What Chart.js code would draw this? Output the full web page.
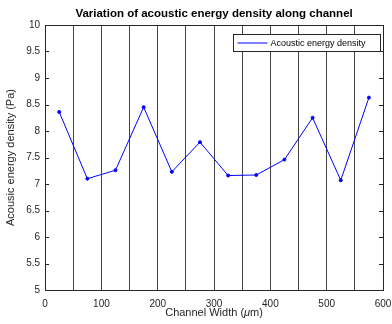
<!DOCTYPE html>
<html>
<head>
<meta charset="utf-8">
<script src="https://cdn.jsdelivr.net/npm/chart.js@4"></script>
<style>
  html, body { margin: 0; padding: 0; background: #fff; }
</style>
</head>
<body>
<canvas id="chEnergy" width="392" height="324"></canvas>
<script>
// data
var channelX = [25, 75, 125, 175, 225, 275, 325, 375, 425, 475, 525, 575];
var energyDensity = [8.36, 7.10, 7.26, 8.45, 7.23, 7.79, 7.16, 7.17, 7.46, 8.25, 7.07, 8.63];
var xTickLabels = [0, 100, 200, 300, 400, 500, 600];
var chartTitle = 'Variation of acoustic energy density along channel';

var axisColor = '#262626';
var fontFam = '"Liberation Sans", Arial, sans-serif';

// title over the plot, box, inward ticks and legend inside the plot (matlab look)
var matlabBox = {
  id: 'matlabBox',
  afterDraw: function(chart) {
    var ctx = chart.ctx, a = chart.chartArea;
    var ys = chart.scales.y;
    ctx.save();
    ctx.strokeStyle = axisColor;
    ctx.lineWidth = 1;
    ctx.strokeRect(Math.round(a.left) + 0.5, Math.round(a.top) + 0.5,
      Math.round(a.right - a.left), Math.round(a.bottom - a.top));
    ctx.beginPath();
    ys.ticks.forEach(function(t) {
      var py = Math.round(ys.getPixelForValue(t.value)) + 0.5;
      ctx.moveTo(a.left, py); ctx.lineTo(a.left + 4, py);
      ctx.moveTo(a.right, py); ctx.lineTo(a.right - 4, py);
    });
    ctx.stroke();

    // title
    ctx.fillStyle = '#000';
    ctx.font = 'bold 11.5px ' + fontFam;
    ctx.textAlign = 'center';
    ctx.textBaseline = 'middle';
    ctx.fillText(chartTitle, (a.left + a.right) / 2, a.top - 11);

    // x axis title with an italic mu
    var parts = [['Channel Width (', ''], ['\u03bc', 'italic '], ['m)', '']];
    var total = 0;
    parts.forEach(function(p) { ctx.font = p[1] + '11px ' + fontFam; total += ctx.measureText(p[0]).width; });
    var tx = (a.left + a.right) / 2 - total / 2;
    ctx.fillStyle = axisColor;
    ctx.textAlign = 'left';
    parts.forEach(function(p) {
      ctx.font = p[1] + '11px ' + fontFam;
      ctx.fillText(p[0], tx, a.bottom + 23);
      tx += ctx.measureText(p[0]).width;
    });

    // legend
    var ds = chart.data.datasets[0];
    var w = 147, h = 17;
    var lx = Math.round(a.right - 3 - w) + 0.5, ly = Math.round(a.top + 9) + 0.5;
    ctx.fillStyle = '#fff';
    ctx.fillRect(lx, ly, w, h);
    ctx.strokeStyle = axisColor;
    ctx.strokeRect(lx, ly, w, h);
    ctx.strokeStyle = ds.borderColor;
    ctx.beginPath();
    ctx.moveTo(lx + 4, ly + h / 2); ctx.lineTo(lx + 34, ly + h / 2);
    ctx.stroke();
    ctx.fillStyle = '#000';
    ctx.font = '9px ' + fontFam;
    ctx.fillText(ds.label, lx + 37, ly + h / 2 + 0.5);
    ctx.restore();
  }
};

new Chart(document.getElementById('chEnergy'), {
  type: 'line',
  data: {
    datasets: [{
      label: 'Acoustic energy density',
      data: channelX.map(function(x, i) { return {x: x, y: energyDensity[i]}; }),
      borderColor: '#0000ff',
      backgroundColor: '#0000ff',
      borderWidth: 1,
      pointRadius: 1.5,
      pointHoverRadius: 1.5,
      tension: 0
    }]
  },
  options: {
    responsive: false,
    animation: false,
    layout: {padding: {left: 4, right: 0, top: 25, bottom: 6}},
    plugins: {
      legend: {display: false},
      tooltip: {enabled: false},
      title: {display: false}
    },
    scales: {
      x: {
        type: 'linear',
        min: 0, max: 600,
        border: {color: axisColor},
        afterFit: function(s) { s.height = 28; s.paddingRight = 9; },
        grid: {
          drawTicks: false,
          color: function(c) {
            var v = c.tick ? c.tick.value : 0;
            return (v === 0 || v === 600) ? 'rgba(0,0,0,0)' : '#444';
          },
          lineWidth: 1
        },
        ticks: {
          stepSize: 50,
          autoSkip: false,
          maxRotation: 0,
          padding: 8,
          color: axisColor,
          font: {family: fontFam, size: 10},
          callback: function(v) { return xTickLabels.indexOf(v) >= 0 ? String(v) : ''; }
        },
        title: {display: false}
      },
      y: {
        min: 5, max: 10,
        border: {color: axisColor},
        grid: {display: false, drawTicks: false},
        ticks: {
          stepSize: 0.5,
          padding: 5,
          color: axisColor,
          font: {family: fontFam, size: 10},
          callback: function(v) { return String(v); }
        },
        title: {
          display: true,
          text: 'Acousic energy density (Pa)',
          color: axisColor,
          font: {family: fontFam, size: 11},
          padding: {top: 0, bottom: 4}
        }
      }
    }
  },
  plugins: [matlabBox]
});
</script>
</body>
</html>
